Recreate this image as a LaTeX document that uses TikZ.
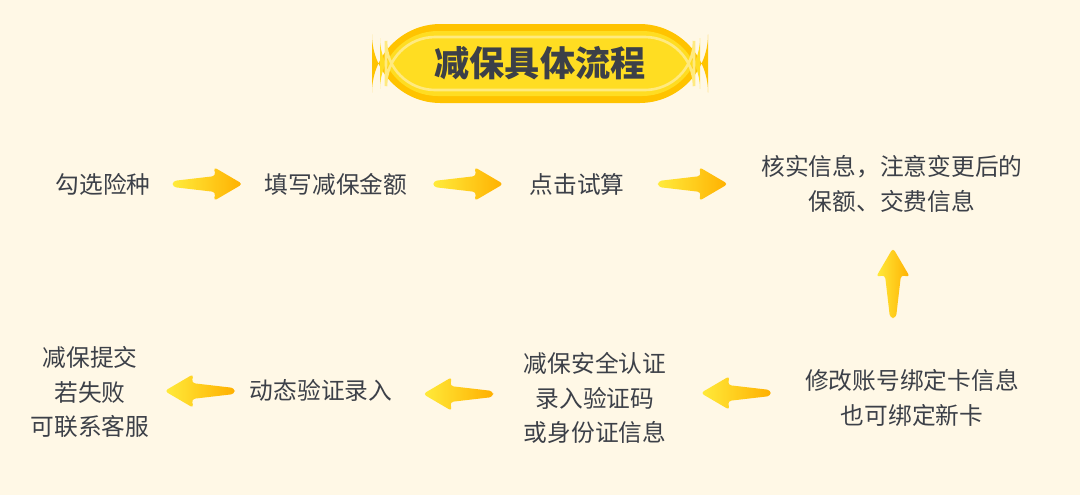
\documentclass[tikz,border=0pt]{standalone}
\usepackage{fontspec}
\setmainfont{Noto Sans CJK SC}
\usetikzlibrary{calc}
\definecolor{bgcream}{HTML}{FFF8E6}
\definecolor{pillring}{HTML}{FFC300}
\definecolor{pillfill}{HTML}{FFDD22}
\definecolor{pillshine}{HTML}{FFEA80}
\definecolor{txtgray}{HTML}{3C4048}
\definecolor{arrowtail}{HTML}{FFEB3B}
\definecolor{arrowhead}{HTML}{FFB000}
\tikzset{
  stepbox/.style={text=txtgray, font=\fontsize{13.5pt}{19.5pt}\selectfont, align=center, inner sep=2pt},
  flowarrow/.pic={
    \path[left color=arrowtail, right color=arrowhead, rounded corners=2pt]
      (-35,-3) -- (8,-8) -- (6,-17) -- (35,0) -- (6,17) -- (8,8) -- (-35,3) -- cycle;
  }
}
\begin{document}
\begin{tikzpicture}[x=0.02cm, y=-0.02cm]
\fill[bgcream] (0,0) rectangle (1080,495);
\useasboundingbox (0,0) rectangle (1080,495);
% title
\fill[pillring, rounded corners=39] (372,24) rectangle (708,103);
\fill[pillfill, rounded corners=33] (380,31) rectangle (700,96);
\draw[pillshine, line width=1.5pt, rounded corners=28] (386,37) rectangle (694,90);
\node[text=txtgray, font=\fontsize{20pt}{24pt}\selectfont\bfseries] (title) at (540,63) {减保具体流程};
% steps
\node[stepbox] (choose) at (103,184) {勾选险种};
\node[stepbox] (amount) at (336,184) {填写减保金额};
\node[stepbox] (calc) at (577,184) {点击试算};
\node[stepbox] (check) at (892,184) {核实信息，注意变更后的\\保额、交费信息};
\node[stepbox] (card) at (912,398) {修改账号绑定卡信息\\也可绑定新卡};
\node[stepbox] (verify) at (595,398) {减保安全认证\\录入验证码\\或身份证信息};
\node[stepbox] (code) at (321,390) {动态验证录入};
\node[stepbox] (submit) at (90,392) {减保提交\\若失败\\可联系客服};
% arrows
\pic at ($(choose.east)!0.5!(amount.west)$) {flowarrow};
\pic at ($(amount.east)!0.5!(calc.west)$) {flowarrow};
\pic at ($(calc.east)!0.5!(check.west)+(0,0)$) {flowarrow};
\pic[rotate=90] at (893,283) {flowarrow};
\pic[rotate=180] at ($(card.west)!0.5!(verify.east)+(0,-5)$) {flowarrow};
\pic[rotate=180] at ($(verify.west)!0.5!(code.east)$) {flowarrow};
\pic[rotate=180] at ($(code.west)!0.5!(submit.east)$) {flowarrow};
\end{tikzpicture}
\end{document}
